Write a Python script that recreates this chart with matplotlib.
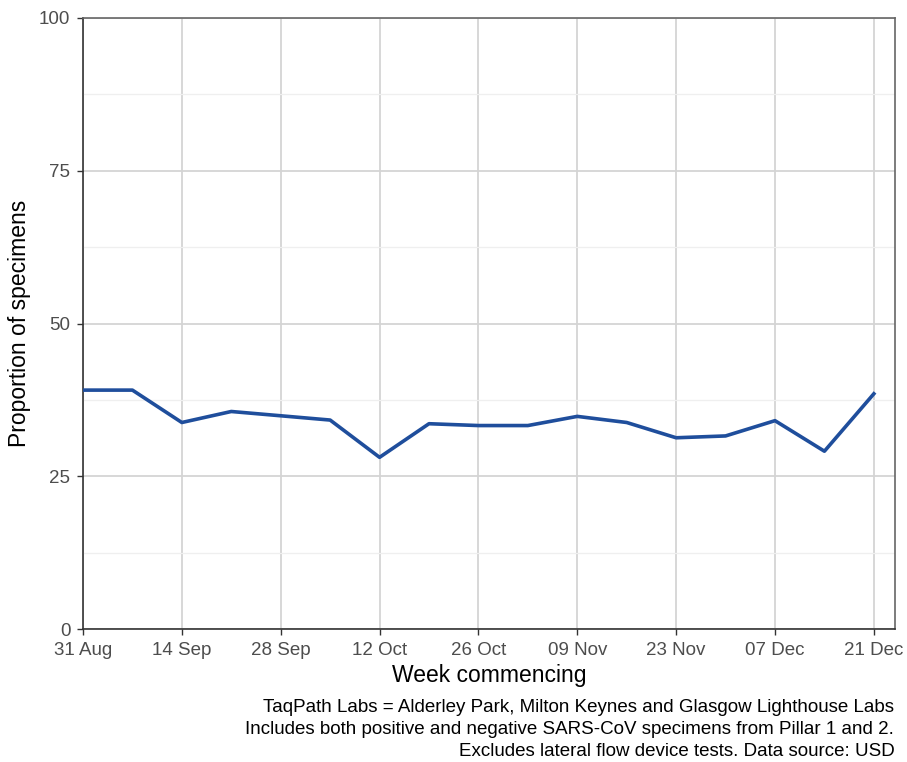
import matplotlib
matplotlib.use('Agg')
import matplotlib.pyplot as plt
import datetime as dt

plt.rcParams['font.family'] = ['Liberation Sans', 'DejaVu Sans']

# weekly data, week commencing
weeks = [dt.date(2020, 8, 31) + dt.timedelta(days=7 * i) for i in range(17)]
proportion = [39.1, 39.1, 33.8, 35.6, 34.9, 34.2, 28.1, 33.6, 33.3,
              33.3, 34.8, 33.8, 31.3, 31.6, 34.1, 29.1, 38.5]

tick_dates = weeks[::2]
tick_labels = [d.strftime('%d %b') for d in tick_dates]

caption = ('TaqPath Labs = Alderley Park, Milton Keynes and Glasgow Lighthouse Labs\n'
           'Includes both positive and negative SARS-CoV specimens from Pillar 1 and 2.\n'
           'Excludes lateral flow device tests. Data source: USD')

fig = plt.figure(figsize=(9.07, 7.62), dpi=100)
ax = fig.add_axes([0.0915, 0.1745, 0.8953, 0.8019])

ax.plot(weeks, proportion, color='#1f4e9c', lw=2.6, solid_joinstyle='round', zorder=3)

ax.set_ylim(0, 100)
ax.set_yticks([0, 25, 50, 75, 100])
ax.set_yticks([12.5, 37.5, 62.5, 87.5], minor=True)
ax.set_xlim(weeks[0], weeks[-1] + dt.timedelta(days=3))
ax.set_xticks(tick_dates)
ax.set_xticklabels(tick_labels)

ax.grid(which='major', color='#d4d4d4', lw=1.3)
ax.grid(which='minor', axis='y', color='#efefef', lw=0.9)
ax.tick_params(which='major', length=4, width=1, color='#333333', labelsize=13.5,
               labelcolor='#4d4d4d', pad=5)
ax.tick_params(which='minor', length=0)
for sp in ax.spines.values():
    sp.set_color('#666666')
    sp.set_linewidth(1.2)
ax.spines['left'].set_color('#333333')
ax.spines['bottom'].set_color('#333333')

ax.set_xlabel('Week commencing', fontsize=16.5, labelpad=4)
ax.set_ylabel('Proportion of specimens', fontsize=16.5, labelpad=6)

fig.text(0.986, 0.002, caption, ha='right', va='bottom', fontsize=13.5,
         linespacing=1.4)

fig.savefig('out.png', dpi=100)
